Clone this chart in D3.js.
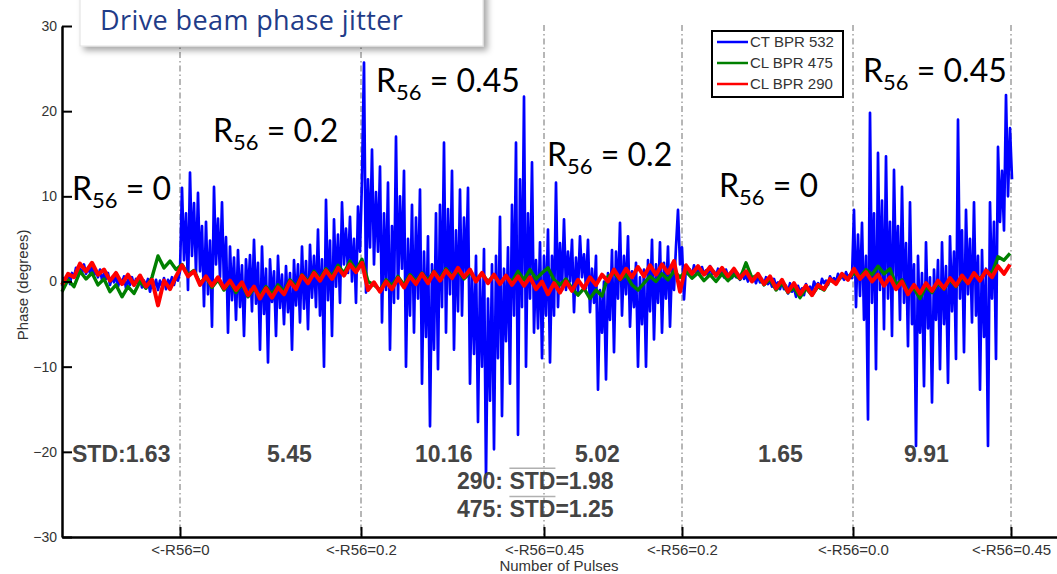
<!DOCTYPE html>
<html>
<head>
<meta charset="utf-8">
<script src="https://cdn.jsdelivr.net/npm/d3@7"></script>
<style>
  body { margin: 0; background: #fff; }
  text { font-family: "Liberation Sans", Arial, sans-serif; }
</style>
</head>
<body>
<div id="chart"></div>
<script>
const WIDTH = 1057, HEIGHT = 574;
const MARGIN = { TOP: 26, BOTTOM: 37, LEFT: 62, RIGHT: 0 };

// pulse spacing of the samples
const BLUE_STEP = 2;
const RG_STEP = 6;

// CT BPR 532 (blue), one value every 2 pulses
const ctBpr532 = [
  // R56 = 0
  -0.5, 0.4, -0.1, 0.8,  -0.3, 1.0, 0.5, 1.6,  0.6, 1.5, 0.9, 2.0,  0.9, 1.6, 1.0, 1.8,
  0.7, 1.2, 0.5, 1.4,  0.2, 0.9, 0.3, 1.0,  -0.4, 0.5, -0.1, 0.8,  -0.6, 0.3, -0.2, 0.6,
  -0.8, 0.2, -0.4, 0.5,  -0.5, 0.3, -0.3, 0.6,  -0.7, 0.1, -0.5, 0.3,  -1.2, 0.0, -0.6, 0.2,
  -1.0, 0.1, -0.5, 0.4,  -0.9, 0.2, -0.3, 0.5,  -0.4, 0.6, 0.1, 1.2,
  // R56 = 0.2
  11.0, 2.5, 8.0, -1.0,  12.8, 3.0, 9.2, 1.0,  10.4, 1.2, 6.5, -2.9,  7.0, -1.5, 4.8, -5.3,
  11.1, 2.0, 7.4, 0.5,  9.3, -0.8, 5.2, -6.0,  4.1, -2.2, 2.8, -4.5,  3.7, -3.0, 1.9, -6.4,
  2.6, -1.8, 3.1, -3.5,  4.9, -2.6, 2.2, -8.0,  4.1, -3.8, 1.5, -9.5,  2.6, -2.4, 1.2, -6.4,
  3.0, -3.1, 0.8, -5.0,  1.8, -3.6, 1.0, -8.0,  2.5, -2.8, 2.0, -4.8,  4.1, -3.2, 2.4, -5.6,
  4.3, -1.9, 3.0, -3.0,  6.1, -4.0, 2.6, -10.0,  9.6, -2.2, 4.8, -6.4,  7.3, -0.6, 5.5, -2.5,
  9.3, 2.0, 6.2, 1.0,  7.6, 0.0, 5.0, -2.5,  8.8, 3.5, 12.0,
  // R56 = 0.45
  25.7,  -1.3, 12.0, 4.0, 15.5,  2.0, 10.5, 3.5, 13.5,  -4.8, 8.0, -1.0, 11.6,  -8.0, 6.5, -2.5, 17.0,
  -2.0, 10.0, 1.5, 13.0,  -10.0, 5.0, -4.0, 9.0,  -6.0, 7.5, -2.0, 10.8,  -12.0, 3.5, -6.5, 5.3,
  -17.0, 2.0, -8.0, 8.0,  -10.3, 9.0, -3.0, 16.3,  -6.0, 8.5, -1.5, 13.0,  -8.0, 6.0, -3.5, 10.8,
  -4.0, 7.5, 0.5, 11.0,  -12.0, 1.0, -8.5, 3.0,  -16.5, 0.5, -10.0, 3.8,  -23.0, -2.0, -14.0, 2.0,
  -19.7, 3.0, -9.0, 7.6,  -15.8, 1.5, -7.0, 4.0,  -12.0, 9.0, -4.0, 16.3,  -18.0, 12.0, -3.0, 21.7,
  -10.0, 8.0, -2.0, 14.0,  -6.0, 2.5, -5.5, 4.6,  -9.0, 3.0, -4.0,
  // R56 = 0.2
  6.1,  -9.5, 3.0, -4.0, 11.6,  -3.0, 4.5, -1.0, 7.3,  -1.0, 3.5, 0.0, 4.9,  -3.6, 2.8, -1.2, 5.3,
  0.5, 3.2, -0.8, 4.9,  -3.6, 1.5, -2.5, 3.0,  -12.7, -1.0, -6.0, 0.0,  -11.5, 1.0, -4.5, 3.7,
  -8.3, 3.5, -2.0, 6.9,  -4.0, 3.0, -1.5, 5.3,  -5.3, 1.2, -3.0, 2.2,  -10.0, 0.5, -5.0, 1.4,
  -10.0, 2.5, -3.5, 4.9,  -6.8, 2.0, -2.5, 4.6,  -6.0, 2.2, -2.0, 4.1,  -5.3, 2.0, -1.0, 4.1,
  8.4, 2.0, 4.0, -2.1,
  // R56 = 0
  1.8, 0.9, 1.4, 0.6,  1.9, 1.0, 1.5, 0.8,  1.7, 0.8, 1.3, 0.7,  1.8, 0.9, 1.2, 0.6,
  1.5, 0.7, 1.1, 0.5,  1.4, 0.6, 1.0, 0.4,  1.3, 0.5, 0.9, 0.2,  1.0, 0.3, 0.7, 0.0,
  0.9, 0.1, 0.5, -0.2,  0.7, -0.1, 0.3, -0.4,  0.5, -0.3, 0.1, -0.6,  0.3, -0.5, -0.1, -0.9,
  0.0, -0.9, -0.5, -1.4,  -0.2, -1.2, -0.7, -1.8,  -0.5, -1.3, -0.8, -1.6,  -0.3, -1.0, -0.6, -1.2,
  0.0, -0.6, -0.2, -0.8,  0.3, -0.2, 0.1, -0.4,  0.6, 0.1, 0.4, -0.1,  0.9, 0.3, 0.7, 0.2,
  1.1, 0.5, 0.8, 0.4,
  // R56 = 0.45
  8.4, -3.0, 5.5, -1.7,  6.9, -4.5, 3.0, -16.2,  19.8, -2.5, 8.0, -10.3,  15.1, -1.0, 9.5, -5.6,
  14.7, -2.0, 7.0, -6.4,  13.1, -0.5, 6.5, -4.5,  11.1, -2.5, 4.5, -7.6,  9.3, -5.0, 2.0, -19.3,
  3.0, -6.0, 1.0, -12.3,  4.6, -5.5, 0.5, -14.2,  1.4, -4.5, 2.5, -10.3,  4.6, -5.0, 1.8, -11.9,
  5.3, -3.5, 3.5, -9.1,  19.0, -2.0, 6.0, -8.3,  8.4, -1.5, 5.0, -4.8,  9.3, -4.0, 3.0, -12.7,
  3.7, -6.5, 1.5, -19.3,  9.3, -2.0, 7.0, -9.1,  15.8, 7.0, 13.0, 6.0,  21.9, 10.0, 18.0, 12.0
];

// CL BPR 475 (green), one value every 6 pulses
const clBpr475 = [
  -1.2, 0.2, -0.6, 1.2, 0.3, 1.0, -0.4, 0.3, -1.2, -0.4, -1.8, -0.6, -1.4, 0.0, -0.8,
  0.5, 3.0, 1.6, 2.4, 1.4, 2.0, 0.8, 1.3, -0.2, 0.5, -0.7, 0.2, -1.0, 0.0, -1.3,
  -0.3, -1.8, -0.8, -1.7, -0.6, -1.5, -0.4, -1.2, 0.2, -0.6, 0.8, 0.0, 1.2, 0.3, 1.5,
  0.6, 1.9, 1.0, 2.4, 1.3, 2.6, 0.0, -0.4, -1.0, 0.2, -0.5, 0.6, -0.4, 0.8, 0.0,
  1.0, 0.1, 1.2, 0.3, 1.5, 0.6, 1.3, 0.3, 1.1, 0.2, 0.9, 0.0, 0.7, -0.2, 0.6,
  0.0, 1.2, 0.2, 1.4, 0.3, 1.0, 1.6, 0.2, -0.4, 0.3, -0.8, -1.6, -0.8, -2.0, -1.0,
  -1.7, 0.6, 1.0, 0.2, 0.8, -0.4, -1.0, -0.2, 0.6, 0.0, 0.9, 0.2, 1.2, 0.5, 1.2,
  0.4, 1.0, 0.1, 0.8, 0.0, 0.9, 0.1, 0.8, 0.3, 2.2, 0.4, 0.8, -0.4, 0.3, -1.0,
  -0.2, -1.3, -0.7, -1.9, -0.8, -1.6, -0.6, -1.0, 0.2, -0.2, 0.8, 0.3, 1.0, 0.5, 1.4,
  0.8, 1.8, 0.9, 1.5, -0.4, 0.2, -1.2, -0.8, -2.0, -0.6, -1.3, -0.2, -0.9, 0.2, -0.6,
  0.5, -0.2, 0.9, 0.3, 1.2, 1.0, 2.9, 2.5, 3.3
];

// CL BPR 290 (red), one value every 6 pulses
const clBpr290 = [
  -0.4, 0.9, 0.5, 2.1, 1.2, 2.2, 0.8, 1.4, 0.1, 1.0, -0.3, 0.8, -0.4, 0.7, -0.6,
  0.2, -2.8, 0.1, -0.9, 0.6, 1.9, 0.6, 1.2, -0.4, 0.6, -0.5, 0.5, -0.8, 0.1, -1.0,
  -0.1, -1.6, -0.6, -2.0, -0.8, -1.9, -0.7, -1.5, 0.0, -0.9, 0.7, -0.2, 1.0, 0.1, 1.3,
  0.3, 1.6, 0.7, 2.0, 1.1, 2.2, -1.0, -0.1, -1.2, 0.0, -0.9, 0.4, -0.7, 0.6, -0.3,
  0.9, -0.2, 1.1, 0.1, 1.3, 0.4, 1.6, 0.5, 1.4, 0.0, 1.0, -0.2, 0.8, -0.3, 0.7,
  -0.4, 0.6, -0.5, 0.5, -0.9, 0.0, -1.5, -0.2, -1.3, 0.0, -1.1, 0.2, -0.8, 0.5, -0.4,
  0.8, 0.0, 1.4, 0.3, 1.5, 0.5, 1.7, 0.6, 1.9, 0.8, 2.0, 1.0, 2.4, -1.2, 1.9,
  0.9, 1.8, 0.8, 1.7, 0.7, 1.6, 0.6, 1.5, 0.4, 1.2, 0.0, 0.9, -0.3, 0.6, -0.8,
  0.2, -1.2, -0.2, -1.5, -0.5, -1.6, -0.4, -0.9, 0.3, -0.3, 0.9, 0.2, 1.5, 0.3, 1.1,
  0.0, 0.8, -0.5, 0.5, -0.9, 0.0, -1.5, -0.4, -1.4, -0.2, -1.1, 0.1, -0.8, 0.4, -0.5,
  0.7, -0.2, 1.0, 0.1, 1.3, 0.5, 1.8, 0.9, 2.0
];

const seriesNames = ['CT BPR 532', 'CL BPR 475', 'CL BPR 290'];
const seriesColors = ['#0000ff', '#008000', '#ff0000'];

// R56 change markers on the pulse axis
const markerPulses = [118, 299, 482, 620, 791, 949];
const markerLabels = ['<-R56=0', '<-R56=0.2', '<-R56=0.45', '<-R56=0.2', '<-R56=0.0', '<-R56=0.45'];
const yTicks = [-30, -20, -10, 0, 10, 20, 30];

// annotations: [pulse, degrees, text]
const r56Notes = [
  [10, 9.6, '0'], [151, 16.4, '0.2'], [314, 22.3, '0.45'],
  [485, 13.6, '0.2'], [657, 9.9, '0'], [801, 23.4, '0.45']
];
const stdNotes = [
  [10, -21.2, 'STD:1.63'], [205, -21.2, '5.45'], [353, -21.2, '10.16'],
  [513, -21.2, '5.02'], [696, -21.2, '1.65'], [842, -21.2, '9.91'],
  [395, -24.4, '290: STD=1.98'], [395, -27.7, '475: STD=1.25']
];

const svg = d3.select('#chart').append('svg')
  .attr('width', WIDTH)
  .attr('height', HEIGHT);

const x = d3.scaleLinear()
  .domain([0, 995])
  .range([MARGIN.LEFT, WIDTH - MARGIN.RIGHT]);

const y = d3.scaleLinear()
  .domain([-30, 30])
  .range([HEIGHT - MARGIN.BOTTOM, MARGIN.TOP]);

// dash-dot marker lines
svg.append('g').selectAll('line')
  .data(markerPulses)
  .enter().append('line')
    .attr('x1', d => x(d)).attr('x2', d => x(d))
    .attr('y1', y(30) - 1).attr('y2', y(-30))
    .attr('stroke', '#6e6e6e')
    .attr('stroke-width', 1)
    .attr('stroke-dasharray', '6,3,1.5,3');

// traces
const traces = [
  { data: ctBpr532, step: BLUE_STEP, width: 2.7 },
  { data: clBpr475, step: RG_STEP, width: 3.4 },
  { data: clBpr290, step: RG_STEP, width: 4 }
];
traces.forEach((t, k) => {
  const line = d3.line()
    .x((d, i) => x(i * t.step))
    .y(d => y(d));
  svg.append('path')
    .datum(t.data)
    .attr('d', line)
    .attr('fill', 'none')
    .attr('stroke', seriesColors[k])
    .attr('stroke-width', t.width)
    .attr('stroke-linejoin', 'round');
});

// axes
const yAxis = svg.append('g')
  .attr('transform', `translate(${MARGIN.LEFT},0)`)
  .call(d3.axisLeft(y).tickValues(yTicks).tickSize(-10).tickSizeOuter(0).tickPadding(5));

const xAxis = svg.append('g')
  .attr('transform', `translate(0,${y(-30)})`)
  .call(d3.axisBottom(x).tickValues(markerPulses)
    .tickFormat((d, i) => markerLabels[i])
    .tickSize(-10).tickSizeOuter(0).tickPadding(7));

[yAxis, xAxis].forEach(g => {
  g.select('.domain').attr('stroke', '#000').attr('stroke-width', 2.5);
  g.selectAll('.tick line').attr('stroke', '#000').attr('stroke-width', 2);
  g.selectAll('.tick text')
    .attr('fill', '#333')
    .style('font-family', '"Liberation Sans", Arial, sans-serif');
});
yAxis.selectAll('.tick text').style('font-size', '14px');
xAxis.selectAll('.tick text').style('font-size', '15px');

svg.append('text')
  .attr('x', x(497))
  .attr('y', 571)
  .attr('text-anchor', 'middle')
  .attr('fill', '#333')
  .style('font-size', '15px')
  .text('Number of Pulses');

svg.append('text')
  .attr('transform', `translate(28,${y(-0.4)}) rotate(-90)`)
  .attr('text-anchor', 'middle')
  .attr('fill', '#333')
  .style('font-size', '15px')
  .text('Phase (degrees)');

// R56 labels
r56Notes.forEach(n => {
  const t = svg.append('text')
    .attr('x', x(n[0]))
    .attr('y', y(n[1]))
    .attr('fill', '#000')
    .style('font-family', 'Lato, "Open Sans", sans-serif')
    .style('font-size', '32px');
  t.append('tspan').text('R');
  t.append('tspan').attr('dy', 8).style('font-size', '22px').text('56');
  t.append('tspan').attr('dy', -8).text(' = ' + n[2]);
});

// STD labels
stdNotes.forEach(n => {
  const t = svg.append('text')
    .attr('x', x(n[0]))
    .attr('y', y(n[1]))
    .attr('fill', '#444')
    .style('font-weight', 'bold')
    .style('font-size', '23px')
    .text(n[2]);
  const s = n[2].indexOf('STD=');
  if (s >= 0) {
    const node = t.node();
    const x0 = node.getStartPositionOfChar(s).x;
    const w = node.getSubStringLength(s, 3);
    svg.append('line')
      .attr('x1', x0).attr('x2', x0 + w)
      .attr('y1', y(n[1]) - 21).attr('y2', y(n[1]) - 21)
      .attr('stroke', '#b0b0b0')
      .attr('stroke-width', 1.5);
  }
});

// legend
const legend = svg.append('g').attr('transform', 'translate(712,31)');
legend.append('rect')
  .attr('width', 131).attr('height', 66)
  .attr('fill', '#fff').attr('stroke', '#000').attr('stroke-width', 2);
seriesNames.forEach((name, i) => {
  legend.append('line')
    .attr('x1', 5).attr('x2', 36)
    .attr('y1', 11 + i * 21).attr('y2', 11 + i * 21)
    .attr('stroke', seriesColors[i]).attr('stroke-width', 2.5);
  legend.append('text')
    .attr('x', 38).attr('y', 16 + i * 21)
    .attr('fill', '#333')
    .style('font-size', '15px')
    .text(name);
});

// title box
const defs = svg.append('defs');
const f = defs.append('filter').attr('id', 'shadow')
  .attr('x', '-10%').attr('y', '-50%').attr('width', '130%').attr('height', '200%');
f.append('feDropShadow')
  .attr('dx', 4).attr('dy', 4).attr('stdDeviation', 3)
  .attr('flood-color', '#000').attr('flood-opacity', 0.35);

svg.append('rect')
  .attr('x', 80).attr('y', -10)
  .attr('width', 403).attr('height', 56)
  .attr('fill', '#fff')
  .attr('stroke', '#e0e0e0')
  .attr('filter', 'url(#shadow)');

svg.append('text')
  .attr('x', 100).attr('y', 30)
  .attr('fill', '#1f3c88')
  .style('font-family', '"Open Sans", Lato, sans-serif')
  .style('font-size', '27px')
  .style('letter-spacing', '0.4px')
  .text('Drive beam phase jitter');
</script>
</body>
</html>
